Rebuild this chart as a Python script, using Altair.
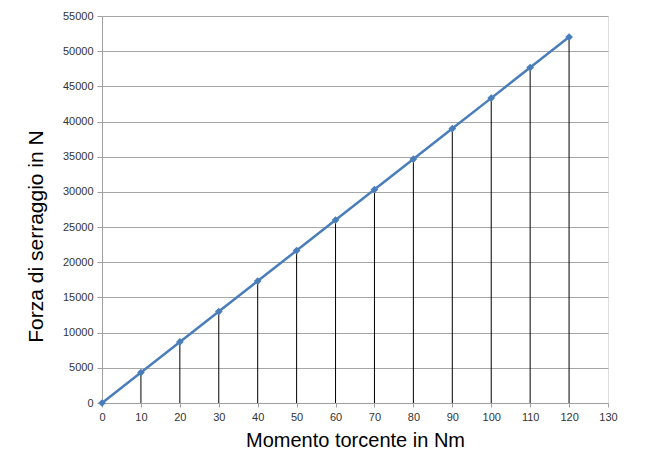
import altair as alt
import pandas as pd

momento = [0, 10, 20, 30, 40, 50, 60, 70, 80, 90, 100, 110, 120]
forza = [0, 4330, 8670, 13000, 17330, 21670, 26000, 30330, 34670, 39000, 43330, 47670, 52000]
x_ticks = list(range(0, 131, 10))
y_ticks = list(range(0, 55001, 5000))

df = pd.DataFrame({"m": momento, "f": forza})

font = "Liberation Sans"

x_scale = alt.Scale(domain=[0, 130], nice=False, zero=True)
y_scale = alt.Scale(domain=[0, 55000], nice=False)

x_enc = alt.X("m:Q", scale=x_scale,
              axis=alt.Axis(values=x_ticks, title="Momento torcente in Nm", grid=False,
                            format="d", labelOverlap=False,
                            domainColor="#a0a0a0", tickColor="#a0a0a0", tickSize=4,
                            labelFont=font, labelFontSize=11, labelColor="#333333",
                            titleFont=font, titleFontSize=20, titleFontWeight="normal",
                            titleColor="#000000", titlePadding=8, labelPadding=4,
                            labelFlush=False))
y_enc = alt.Y("f:Q", scale=y_scale,
              axis=alt.Axis(values=y_ticks, title="Forza di serraggio in N", grid=True,
                            format="d", labelOverlap=False,
                            gridColor="#a6a6a6", gridWidth=1,
                            domainColor="#a0a0a0", tickColor="#a0a0a0", tickSize=5,
                            labelFont=font, labelFontSize=11, labelColor="#333333",
                            titleFont=font, titleFontSize=21, titleFontWeight="normal",
                            titleColor="#000000", titlePadding=16, labelPadding=4,
                            titleY=220,
                            labelFlush=False))

base = alt.Chart(df).encode(x=x_enc, y=y_enc)

drops = base.mark_rule(color="#000000", strokeWidth=1).encode(y2=alt.datum(0))

line = base.mark_line(color="#4a7ebb", strokeWidth=2.5)

points = base.mark_point(shape="diamond", filled=True, size=60, color="#4a7ebb", opacity=1)

chart = alt.layer(drops, line, points).properties(
    width=506, height=387,
    autosize=alt.AutoSizeParams(type="none"),
    padding={"left": 102, "top": 16, "right": 37, "bottom": 51},
).configure_view(stroke=None).configure(background="white")

chart.save("out.html", embed_options={"renderer": "svg", "actions": False})
